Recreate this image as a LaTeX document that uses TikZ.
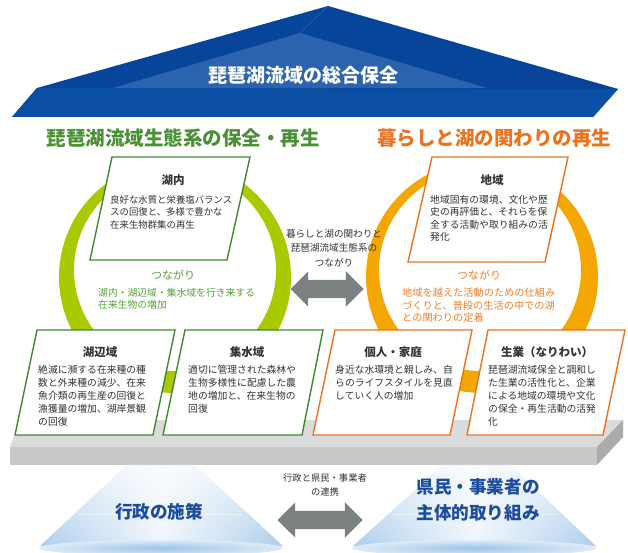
\documentclass[tikz,border=0pt]{standalone}
\usepackage{fontspec}
\setmainfont{Noto Sans CJK JP}
\usepackage{tikz}
\usetikzlibrary{positioning,shapes.arrows,fadings}

\definecolor{roofblue}{HTML}{07459B}
\definecolor{roofmid}{HTML}{0A4FA3}
\definecolor{rooflight}{HTML}{2C63AF}
\definecolor{ecogreen}{HTML}{3F8A2F}
\definecolor{titlegreen}{HTML}{4A9034}
\definecolor{linkgreen}{HTML}{55A03A}
\definecolor{ringgreen}{HTML}{A9C900}
\definecolor{liveorange}{HTML}{EA7320}
\definecolor{linkorange}{HTML}{F0802C}
\definecolor{ringorange}{HTML}{F4A700}
\definecolor{arrowgray}{HTML}{7B8081}
\definecolor{textgray}{HTML}{333333}
\definecolor{conetext}{HTML}{1B4C9E}
\definecolor{coneblue}{HTML}{9DC5E9}
\definecolor{platetop}{HTML}{DADBDB}
\definecolor{platefront}{HTML}{C8C8C8}
\definecolor{plateside}{HTML}{ABABAB}

\begin{document}
\begin{tikzpicture}[
		x=1pt, y=-1pt
		,every node/.style={inner sep=0pt, text=textgray}
		,bigtitle/.style={font=\fontsize{19.5}{22}\selectfont\bfseries}
		,boxtitle/.style={font=\fontsize{11.5}{13}\selectfont\bfseries}
		,boxtext/.style={font=\fontsize{9.8}{13}\selectfont, align=left, anchor=north west}
		,greenbox/.style={draw=ecogreen, fill=white, line width=1.4pt, line join=miter}
		,orangebox/.style={draw=liveorange, fill=white, line width=1.4pt, line join=miter}
		,linkhead/.style={font=\fontsize{11}{13}\selectfont}
		,linklines/.style={font=\fontsize{9.8}{12.2}\selectfont, align=left, anchor=north west}
		,midtext/.style={font=\fontsize{9.6}{14.5}\selectfont, align=center}
		,twoway/.style={double arrow, fill=arrowgray, inner ysep=9pt, double arrow head extend=8.5pt, minimum height=73pt}
		,conelabel/.style={font=\fontsize{17.6}{26}\selectfont\bfseries, text=conetext, align=center}
		,cone/.style={left color=coneblue!85, right color=coneblue!85, middle color=coneblue!15}
	]
		\useasboundingbox (0,0) rectangle (628,553);
		\fill[white] (0,0) rectangle (628,553);

		\fill[roofblue] (328,6) -- (618,89) -- (593,117) -- (12,117) -- (37,88) -- cycle;
		\fill[rooflight] (300,33) -- (487,88) -- (113,88) -- cycle;
		\fill[roofmid] (37,88) -- (618,89) -- (593,117) -- (12,117) -- cycle;
		\draw[rooflight, line width=0.6pt] (328,6) -- (300,33);
		\node[bigtitle, font=\fontsize{19}{22}\selectfont\bfseries, text=white] (roof) at (303,75) {琵琶湖流域の総合保全};

		\node[bigtitle, text=titlegreen] (ecotitle) at (183,138) {琵琶湖流域生態系の保全・再生};
		\node[bigtitle, text=liveorange] (lifetitle) at (494,138) {暮らしと湖の関わりの再生};

		\fill[ringgreen, even odd rule] (175,277) circle[radius=116] (175,270) circle[radius=101];
		\fill[ringorange, even odd rule] (482,277) circle[radius=116] (480,270) circle[radius=101];

		\draw[greenbox] (112,157) -- (250,157) -- (227,260) -- (90,260) -- cycle;
		\node[boxtitle] (konai) at (173,180) {湖内};
		\node[boxtext, font=\fontsize{9.4}{12.5}\selectfont] (konaitext) at (110,195) {良好な水質と栄養塩バランス\\スの回復と、多様で豊かな\\在来生物群集の再生};

		\draw[orangebox] (432,157) -- (568,157) -- (545,262) -- (408,262) -- cycle;
		\node[boxtitle] (chiiki) at (492,180) {地域};
		\node[boxtext, font=\fontsize{9.8}{12.5}\selectfont] (chiikitext) at (430,195) {地域固有の環境、文化や歴\\史の再評価と、それらを保\\全する活動や取り組みの活\\発化};

		\node[twoway] (midarrow) at (327,289) {};
		\node[midtext] (midlink) at (334,248) {暮らしと湖の関わりと\\琵琶湖流域生態系の\\つながり};

		\node[linkhead, text=linkgreen] (ecolink) at (173,275) {つながり};
		\node[linklines, text=linkgreen] (ecolinktext) at (98,288) {湖内・湖辺域・集水域を行き来する\\在来生物の増加};
		\node[linkhead, text=linkorange] (lifelink) at (479,275) {つながり};
		\node[linklines, font=\fontsize{10.2}{12.6}\selectfont, text=linkorange] (lifelinktext) at (402,288) {地域を越えた活動のための仕組み\\づくりと、普段の生活の中での湖\\との関わりの定着};

		\fill[platetop] (20,420) -- (623,420) -- (597,447) -- (10,447) -- cycle;
		\fill[platefront] (10,447) rectangle (597,465);
		\fill[plateside] (597,447) -- (623,420) -- (623,437) -- (597,465) -- cycle;

		\draw[greenbox] (37,330) -- (175,330) -- (153,435) -- (15,435) -- cycle;
		\node[boxtitle] (kohen) at (100,352) {湖辺域};
		\node[boxtext] (kohentext) at (38,365) {絶滅に瀕する在来種の種\\数と外来種の減少、在来\\魚介類の再生産の回復と\\漁獲量の増加、湖岸景観\\の回復};

		\draw[greenbox] (185,330) -- (323,330) -- (302,435) -- (163,435) -- cycle;
		\node[boxtitle] (shusui) at (247,352) {集水域};
		\node[boxtext] (shusuitext) at (188,365) {適切に管理された森林や\\生物多様性に配慮した農\\地の増加と、在来生物の\\回復};

		\draw[orangebox] (335,330) -- (472,330) -- (450,435) -- (313,435) -- cycle;
		\node[boxtitle] (katei) at (393,352) {個人・家庭};
		\node[boxtext] (kateitext) at (335,365) {身近な水環境と親しみ、自\\らのライフスタイルを見直\\していく人の増加};

		\draw[orangebox] (488,330) -- (625,330) -- (603,435) -- (467,435) -- cycle;
		\node[boxtitle] (nariwai) at (547,352) {生業（なりわい）};
		\node[boxtext] (nariwaitext) at (488,365) {琵琶湖流域保全と調和し\\た生業の活性化と、企業\\による地域の環境や文化\\の保全・再生活動の活発\\化};

		\shade[cone] (127,465) -- (195,465) -- (283,546) -- (40,546) -- cycle;
		\fill[white, opacity=0.7, path fading=south] (127,465) -- (195,465) -- (283,546) -- (40,546) -- cycle;
		\shade[inner color=coneblue, outer color=coneblue!35] (161,548) ellipse[x radius=122, y radius=8];
		\draw[white, opacity=0.5] (78,514) -- (244,514);
		\node[conelabel] (govt) at (159,512) {行政の施策};

		\shade[cone] (443,465) -- (510,465) -- (596,546) -- (353,546) -- cycle;
		\fill[white, opacity=0.7, path fading=south] (443,465) -- (510,465) -- (596,546) -- (353,546) -- cycle;
		\shade[inner color=coneblue, outer color=coneblue!35] (474,548) ellipse[x radius=122, y radius=8];
		\draw[white, opacity=0.5] (392,514) -- (557,514);
		\node[conelabel] (citizen) at (478,500) {県民・事業者の\\主体的取り組み};

		\node[twoway, minimum height=85pt] (jointarrow) at (320,520) {};
		\node[midtext, font=\fontsize{9.3}{14}\selectfont] (jointtext) at (325,485) {行政と県民・事業者\\の連携};
	\end{tikzpicture}
\end{document}
